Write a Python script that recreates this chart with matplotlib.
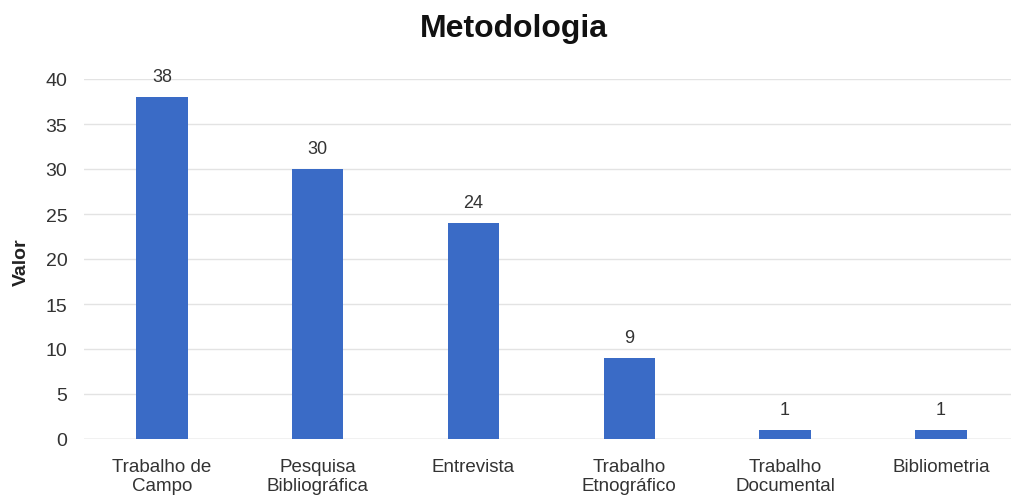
import matplotlib
matplotlib.use("Agg")
import matplotlib.pyplot as plt

categories = ["Trabalho de\nCampo", "Pesquisa\nBibliográfica", "Entrevista",
              "Trabalho\nEtnográfico", "Trabalho\nDocumental", "Bibliometria"]
values = [38, 30, 24, 9, 1, 1]
yticks = [0, 5, 10, 15, 20, 25, 30, 35, 40]

plt.rcParams['font.family'] = ['Liberation Sans', 'DejaVu Sans']

fig = plt.figure(figsize=(10.11, 5.02), dpi=100)
ax = fig.add_axes([84/1011, 1 - 440/502, (1011 - 84)/1011, (440 - 80)/502])

x = list(range(len(categories)))
ax.bar(x, values, width=0.33, color="#3a6bc6", zorder=3)
for xi, v in zip(x, values):
    ax.text(xi, v + 1.3, str(v), ha="center", va="bottom", fontsize=13, color="#333333")

ax.set_xlim(-0.5, 5.45)
ax.set_ylim(0, 40)
ax.set_yticks(yticks)
ax.set_xticks(x)
ax.set_xticklabels(categories, fontsize=13.5, color="#333333", linespacing=1.1)
ax.tick_params(axis="y", labelsize=14, colors="#333333", length=0, pad=12)
ax.tick_params(axis="x", length=0, pad=14)
ax.grid(axis="y", color="#e3e3e3", linewidth=1, zorder=0)
for s in ax.spines.values():
    s.set_visible(False)
ax.axhline(0, color="#d0d0d0", linewidth=1, zorder=1)

fig.text(21/1011, 1 - 262/502, "Valor", rotation=90, ha="center", va="center",
         fontsize=14, fontweight="bold", color="#222222")
fig.text(0.508, 1 - 29/502, "Metodologia", ha="center", va="center",
         fontsize=23, fontweight="bold", color="#111111")

fig.savefig("out.png", dpi=100)
